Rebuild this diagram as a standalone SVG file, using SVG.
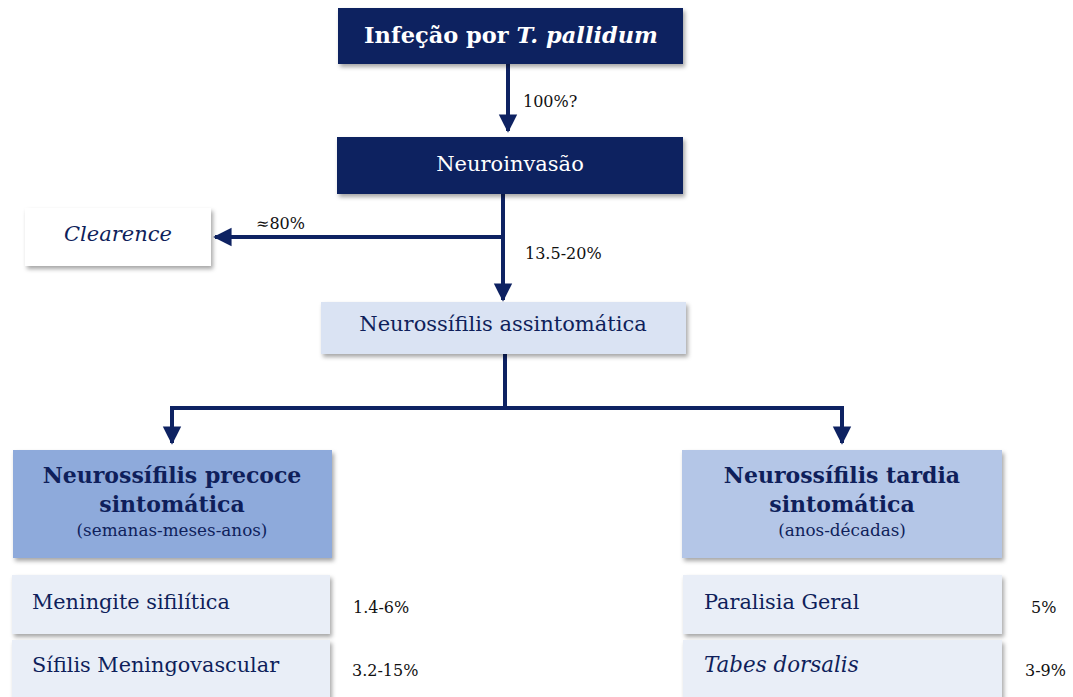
<svg xmlns="http://www.w3.org/2000/svg" width="1073" height="697" viewBox="0 0 1073 697">
  <defs>
    <filter id="shadow" x="-10%" y="-20%" width="125%" height="150%">
      <feDropShadow dx="2" dy="3" stdDeviation="2" flood-color="#000" flood-opacity="0.35"/>
    </filter>
    <marker id="arrow" viewBox="0 0 10 10" refX="9" refY="5" markerWidth="4.6" markerHeight="5" markerUnits="strokeWidth" orient="auto">
      <path d="M0,0 L10,5 L0,10 Z" fill="#0e2262"/>
    </marker>
  </defs>
  <style>
    text { font-family: "DejaVu Serif", "Liberation Serif", serif; }
    .dark { fill: #0d2060; }
    .wire { stroke: #0e2262; stroke-width: 4; fill: none; }
    .white-t { fill: #ffffff; }
    .navy-t { fill: #0f1f5b; }
    .pct { fill: #111111; font-size: 16px; }
  </style>
  <rect width="1073" height="697" fill="#ffffff"/>

  <g id="connectors">
    <line class="wire" x1="508" y1="64" x2="508" y2="131" marker-end="url(#arrow)"/>
    <line class="wire" x1="503" y1="194" x2="503" y2="300" marker-end="url(#arrow)"/>
    <line class="wire" x1="503" y1="237" x2="215" y2="237" marker-end="url(#arrow)"/>
    <polyline class="wire" points="505,354 505,408 172,408 172,443" marker-end="url(#arrow)"/>
    <polyline class="wire" points="505,408 842,408 842,443" marker-end="url(#arrow)"/>
    <text class="pct" x="523" y="107">100%?</text>
    <text class="pct" x="256" y="229">≈80%</text>
    <text class="pct" x="525" y="259">13.5-20%</text>
  </g>

  <g id="infecao">
    <rect x="338" y="8" width="345" height="56" class="dark" filter="url(#shadow)"/>
    <text x="511" y="43" text-anchor="middle" class="white-t" font-size="22.5" font-weight="bold">Infeção por <tspan font-style="italic">T. pallidum</tspan></text>
  </g>

  <g id="neuroinvasao">
    <rect x="337" y="137" width="346" height="57" class="dark" filter="url(#shadow)"/>
    <text x="510" y="171" text-anchor="middle" class="white-t" font-size="21">Neuroinvasão</text>
  </g>

  <g id="clearence">
    <rect x="25" y="208" width="186" height="58" fill="#ffffff" filter="url(#shadow)"/>
    <text x="118" y="241" text-anchor="middle" class="navy-t" font-size="21" font-style="italic">Clearence</text>
  </g>

  <g id="assintomatica">
    <rect x="321" y="302" width="365" height="52" fill="#dae3f3" filter="url(#shadow)"/>
    <text x="503" y="331" text-anchor="middle" class="navy-t" font-size="21">Neurossífilis assintomática</text>
  </g>

  <g id="precoce">
    <rect x="13" y="450" width="319" height="108" fill="#8eaadb" filter="url(#shadow)"/>
    <text x="172" y="483" text-anchor="middle" class="navy-t" font-size="22" font-weight="bold">Neurossífilis precoce</text>
    <text x="172" y="512" text-anchor="middle" class="navy-t" font-size="22" font-weight="bold">sintomática</text>
    <text x="172" y="536" text-anchor="middle" class="navy-t" font-size="16.8">(semanas-meses-anos)</text>
  </g>

  <g id="tardia">
    <rect x="682" y="450" width="320" height="108" fill="#b4c6e7" filter="url(#shadow)"/>
    <text x="842" y="483" text-anchor="middle" class="navy-t" font-size="22" font-weight="bold">Neurossífilis tardia</text>
    <text x="842" y="512" text-anchor="middle" class="navy-t" font-size="22" font-weight="bold">sintomática</text>
    <text x="842" y="536" text-anchor="middle" class="navy-t" font-size="16.8">(anos-décadas)</text>
  </g>

  <g id="meningite">
    <rect x="12" y="575" width="318" height="59" fill="#e9eef7" filter="url(#shadow)"/>
    <text x="32" y="609" class="navy-t" font-size="20.8">Meningite sifilítica</text>
    <text class="pct" x="353" y="613">1.4-6%</text>
  </g>

  <g id="meningovascular">
    <rect x="12" y="640" width="318" height="62" fill="#e9eef7" filter="url(#shadow)"/>
    <text x="32" y="672" class="navy-t" font-size="20.8">Sífilis Meningovascular</text>
    <text class="pct" x="352" y="676">3.2-15%</text>
  </g>

  <g id="paralisia">
    <rect x="683" y="575" width="319" height="59" fill="#e9eef7" filter="url(#shadow)"/>
    <text x="704" y="609" class="navy-t" font-size="20.8">Paralisia Geral</text>
    <text class="pct" x="1031" y="613">5%</text>
  </g>

  <g id="tabes">
    <rect x="683" y="640" width="319" height="62" fill="#e9eef7" filter="url(#shadow)"/>
    <text x="704" y="672" class="navy-t" font-size="21.4" font-style="italic">Tabes dorsalis</text>
    <text class="pct" x="1025" y="676">3-9%</text>
  </g>
</svg>
